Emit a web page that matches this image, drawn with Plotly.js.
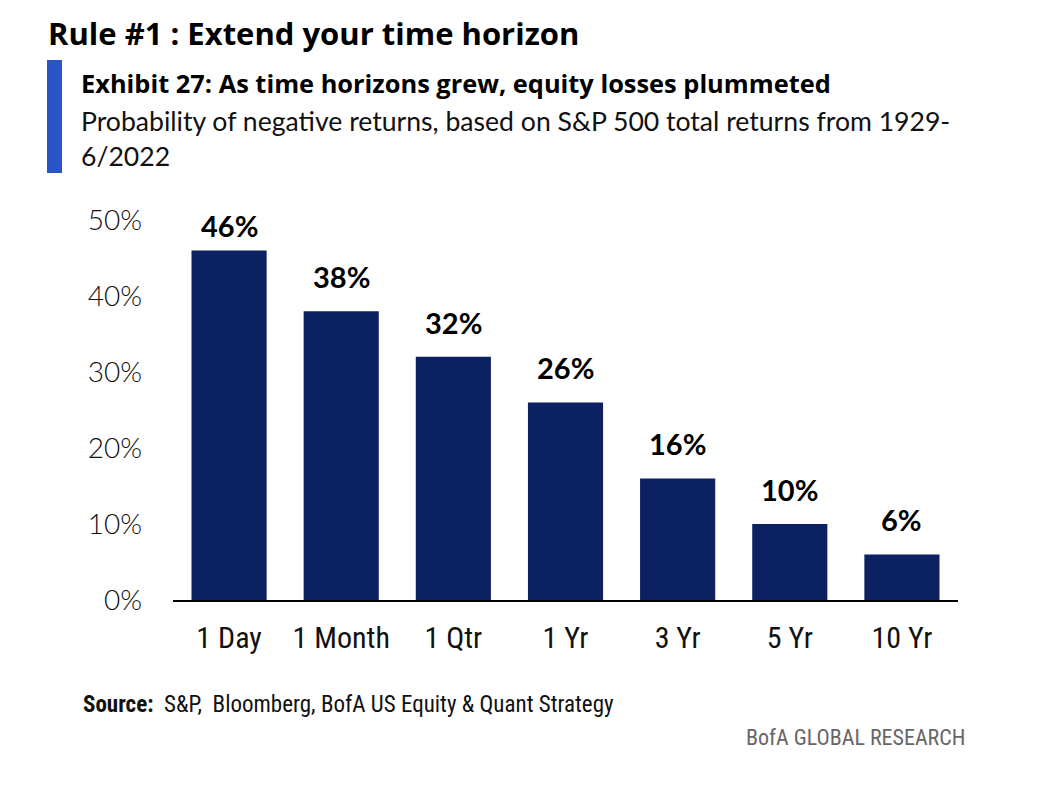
<!DOCTYPE html>
<html><head><meta charset="utf-8">
<script src="https://cdn.plot.ly/plotly-3.0.1.min.js"></script>
<style>body{margin:0;background:#fff}#c{width:1054px;height:800px}</style>
</head><body><div id="c"></div>
<script>
const categories = ['1 Day','1 Month','1 Qtr','1 Yr','3 Yr','5 Yr','10 Yr'];
const negProb = [46, 38, 32, 26, 16, 10, 6];
const valueLabels = ['46%','38%','32%','26%','16%','10%','6%'];
const yTicks = [0, 10, 20, 30, 40, 50];
const yTickLabels = ['0%','10%','20%','30%','40%','50%'];

const narrow = '"Roboto Condensed", "Liberation Sans Narrow", sans-serif';
const L = 173, R = 958, T = 220, B = 600;
const px = x => (x - L) / (R - L);
const py = y => (B - y) / (B - T);

const trace = {
  type: 'bar', x: categories, y: negProb,
  marker: {color: '#0b2161'},
  hoverinfo: 'skip'
};

const valueAnnots = categories.map((c, i) => ({
  x: c, y: negProb[i], xref: 'x', yref: 'y',
  text: '<b>' + valueLabels[i] + '</b>', showarrow: false,
  xanchor: 'center', yanchor: 'bottom', yshift: negProb[i] > 44 ? 5 : 15,
  font: {family: 'Lato, sans-serif', size: 29, color: '#000'}
}));

const layout = {
  width: 1054, height: 800,
  margin: {l: L, r: 1054 - R, t: T, b: 800 - B},
  paper_bgcolor: '#fff', plot_bgcolor: '#fff',
  bargap: 0.33,
  showlegend: false,
  xaxis: {
    range: [-0.5, 6.5], showline: true, linecolor: '#000', linewidth: 2,
    ticks: '', showgrid: false, zeroline: false,
    tickfont: {family: narrow, size: 30, color: '#111'},
    ticklabelstandoff: 10
  },
  yaxis: {
    range: [0, 50], tickvals: yTicks, ticktext: yTickLabels,
    showgrid: false, zeroline: false, showline: false, ticks: '',
    tickfont: {family: 'Lato, sans-serif', size: 28, color: '#111', weight: 300},
    ticklabelstandoff: 30
  },
  shapes: [{
    type: 'rect', xref: 'paper', yref: 'paper',
    x0: px(47), x1: px(62), y0: py(173), y1: py(60),
    fillcolor: '#2a55c8', line: {width: 0}
  }],
  annotations: valueAnnots.concat([
    {text: '<b>Rule #1 : Extend your time horizon</b>', xref: 'paper', yref: 'paper',
     x: px(46), y: py(33), xanchor: 'left', yanchor: 'middle', showarrow: false,
     font: {family: '"Open Sans", sans-serif', size: 31, color: '#000'}},
    {text: '<b>Exhibit 27: As time horizons grew, equity losses plummeted</b>', xref: 'paper', yref: 'paper',
     x: px(79), y: py(83), xanchor: 'left', yanchor: 'middle', showarrow: false,
     font: {family: '"Open Sans", sans-serif', size: 25.4, color: '#000'}},
    {text: 'Probability of negative returns, based on S&P 500 total returns from 1929-', xref: 'paper', yref: 'paper',
     x: px(79), y: py(121), xanchor: 'left', yanchor: 'middle', showarrow: false,
     font: {family: 'Lato, sans-serif', size: 26.6, color: '#111'}},
    {text: '6/2022', xref: 'paper', yref: 'paper',
     x: px(79), y: py(156), xanchor: 'left', yanchor: 'middle', showarrow: false,
     font: {family: 'Lato, sans-serif', size: 26.6, color: '#111'}},
    {text: '<b>Source:</b>  S&P,  Bloomberg, BofA US Equity & Quant Strategy', xref: 'paper', yref: 'paper',
     x: px(81), y: py(704), xanchor: 'left', yanchor: 'middle', showarrow: false,
     font: {family: narrow, size: 23, color: '#111'}},
    {text: 'BofA GLOBAL RESEARCH', xref: 'paper', yref: 'paper',
     x: px(967), y: py(737), xanchor: 'right', yanchor: 'middle', showarrow: false,
     font: {family: narrow, size: 22, color: '#666'}}
  ])
};

Plotly.newPlot('c', [trace], layout, {displayModeBar: false, staticPlot: true});
</script></body></html>
